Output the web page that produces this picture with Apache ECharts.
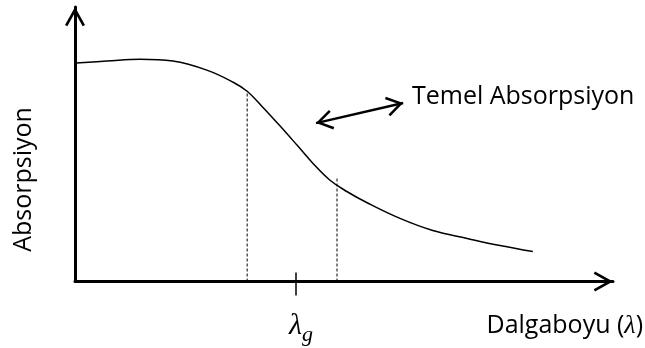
<!DOCTYPE html>
<html><head><meta charset="utf-8">
<script src="https://cdn.jsdelivr.net/npm/echarts@6/dist/echarts.min.js"></script>
<style>html,body{margin:0;padding:0;background:#fff}#c{width:645px;height:348px}</style>
</head><body><div id="c"></div>
<script>
// ---- data ----
const curveX = [0.2, 5.9, 12.1, 18.2, 24.5, 29.4, 32.0, 34.9, 38.0, 41.3, 44.2, 47.4, 50.6, 54.3, 60.4, 66.5, 72.9, 79.0, 85.1];
const curveY = [79.6, 80.3, 81.0, 80.3, 77.0, 72.6, 69.3, 63.5, 56.9, 49.6, 43.1, 36.9, 32.7, 28.7, 23.0, 18.6, 15.7, 13.1, 10.9];
const cutoffX = [32.0, 48.7];
const cutoffTop = [69.0, 37.5];
const gapX = [41.1];
const arrowX = [44.8, 61.0];
const arrowY = [57.7, 65.0];
const yTitle = 'Absorpsiyon';
const xTitle = 'Dalgaboyu';
const bandTitle = 'Temel Absorpsiyon';

// ---- helpers ----
function chevron(w, l, t) {
  const a = w / 2, L = Math.hypot(a, l);
  const ix = a - t * l / L, iy = l + t * a / L, it = t * L / a;
  const R = Math.max(a, iy) + 1;
  const p = 'path://M0,0 L' + a + ',' + l + ' L' + ix + ',' + iy + ' L0,' + it +
    ' L' + (-ix) + ',' + iy + ' L' + (-a) + ',' + l + ' Z' +
    ' M' + (-R) + ',' + (-R) + ' L' + (-R + 0.01) + ',' + (-R) + ' Z' +
    ' M' + R + ',' + R + ' L' + (R - 0.01) + ',' + R + ' Z';
  return { path: p, size: 2 * R };
}
const axisArrow = chevron(20, 18, 2.7);
const noteArrow = chevron(20, 15.5, 2.5);
const SANS = "'Open Sans', sans-serif";
const SERIF = "'Liberation Serif', serif";

const curveData = curveX.map((x, i) => [x, curveY[i]]);
const cutoffSeries = cutoffX.map((x, i) => ({
  type: 'line', silent: true, symbol: 'none', animation: false,
  data: [[x, 0], [x, cutoffTop[i]]],
  lineStyle: { color: '#000', width: 1, type: [3, 2] }
}));

const chart = echarts.init(document.getElementById('c'), null, { renderer: 'canvas' });
chart.setOption({
  animation: false,
  backgroundColor: '#fff',
  grid: { left: 75, right: 32, top: 7, bottom: 66.5, containLabel: false },
  xAxis: [{
    type: 'value', min: 0, max: 100,
    axisLine: { show: true, lineStyle: { color: '#000', width: 3 },
      symbol: ['none', axisArrow.path], symbolSize: [axisArrow.size, axisArrow.size] },
    axisTick: { show: true, customValues: gapX, inside: false, length: 14, lineStyle: { color: '#000', width: 1.5 } },
    axisLabel: { show: true, customValues: gapX, margin: 30, padding: [0, 0, 0, 10],
      formatter: () => '{a|λ}{b|g}',
      rich: {
        a: { fontFamily: SERIF, fontStyle: 'italic', fontSize: 30, lineHeight: 30, verticalAlign: 'top', color: '#000' },
        b: { fontFamily: SERIF, fontStyle: 'italic', fontSize: 22, lineHeight: 22, verticalAlign: 'top', padding: [12.5, 0, 0, 0], color: '#000' }
      } },
    splitLine: { show: false }
  }, {
    type: 'value', min: 0, max: 100, position: 'bottom',
    axisLine: { show: false },
    axisTick: { show: true, customValues: gapX, inside: true, length: 9, lineStyle: { color: '#000', width: 1.5 } },
    axisLabel: { show: false },
    splitLine: { show: false }
  }],
  yAxis: {
    type: 'value', min: 0, max: 100,
    axisLine: { show: true, lineStyle: { color: '#000', width: 3 },
      symbol: ['none', axisArrow.path], symbolSize: [axisArrow.size, axisArrow.size] },
    axisTick: { show: false }, axisLabel: { show: false }, splitLine: { show: false }
  },
  series: [{
    type: 'line', silent: true, symbol: 'none', smooth: 0.4,
    data: curveData,
    lineStyle: { color: '#000', width: 1.5 },
    markLine: {
      silent: true, animation: false,
      symbol: [noteArrow.path, noteArrow.path], symbolSize: noteArrow.size,
      lineStyle: { color: '#000', width: 2.5, type: 'solid' },
      label: { show: true, position: 'end', distance: [9, 29], formatter: bandTitle,
        color: '#000', fontFamily: SANS, fontSize: 25 },
      data: [[{ coord: [arrowX[0], arrowY[0]] }, { coord: [arrowX[1], arrowY[1]] }]]
    }
  }].concat(cutoffSeries),
  graphic: [{
    type: 'text', x: 24, y: 179.5, rotation: Math.PI / 2, silent: true,
    style: { text: yTitle, align: 'center', verticalAlign: 'middle', fill: '#000',
      font: '25px ' + SANS }
  }, {
    type: 'text', x: 643, y: 326, silent: true,
    style: { text: '{n|' + xTitle + ' (}{l|λ}{n|)}', align: 'right', verticalAlign: 'middle',
      rich: {
        n: { fontFamily: SANS, fontSize: 25, fill: '#000' },
        l: { fontFamily: SERIF, fontStyle: 'italic', fontSize: 26, fill: '#000' }
      } }
  }]
});
</script></body></html>
